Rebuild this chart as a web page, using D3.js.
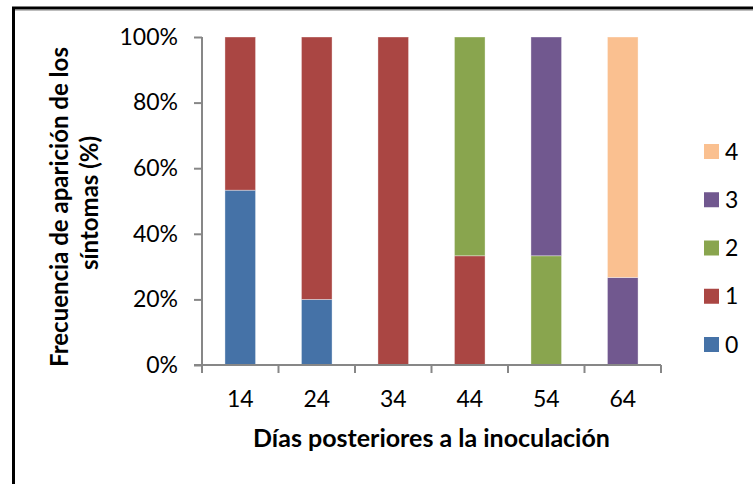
<!DOCTYPE html>
<html>
<head>
<meta charset="utf-8">
<script src="https://cdn.jsdelivr.net/npm/d3@7"></script>
<style>
  html, body { margin: 0; padding: 0; background: #fff; }
  svg { display: block; }
  text { font-family: Lato, "Open Sans", sans-serif; fill: #000; }
</style>
</head>
<body>
<svg id="chart" width="753" height="484"></svg>
<script>
// Days after inoculation (categories) and symptom-level shares (%) per day
const days = ["14", "24", "34", "44", "54", "64"];
const levels = ["0", "1", "2", "3", "4"];
const level0 = [53.3, 20, 0, 0, 0, 0];
const level1 = [46.7, 80, 100, 33.3, 0, 0];
const level2 = [0, 0, 0, 66.7, 33.3, 0];
const level3 = [0, 0, 0, 0, 66.7, 26.7];
const level4 = [0, 0, 0, 0, 0, 73.3];
const levelColors = ["#4572A7", "#AA4643", "#89A54E", "#71588F", "#FAC090"];
const yTicks = [0, 20, 40, 60, 80, 100];

const seriesValues = [level0, level1, level2, level3, level4];
const rows = days.map((d, i) => {
  const r = { day: d };
  levels.forEach((l, k) => { r[l] = seriesValues[k][i]; });
  return r;
});

const svg = d3.select("#chart");
const margin = { left: 202, right: 92, top: 37, bottom: 119 };
const W = 753, H = 484;

// Outer frame
svg.append("line").attr("x1", 15).attr("x2", W).attr("y1", 10.5).attr("y2", 10.5)
  .attr("stroke", "#bdbdbd").attr("stroke-width", 1);
svg.append("rect").attr("x", 13.5).attr("y", 8).attr("width", W + 20).attr("height", H + 20)
  .attr("fill", "none").attr("stroke", "#000").attr("stroke-width", 3);

const x = d3.scaleBand().domain(days).range([margin.left, W - margin.right]).paddingInner(0.6).paddingOuter(0.3);
const y = d3.scaleLinear().domain([0, 100]).range([H - margin.bottom, margin.top]);

const stacked = d3.stack().keys(levels)(rows);

const bars = svg.append("g");
stacked.forEach((s, k) => {
  bars.selectAll(null).data(s).join("rect")
    .attr("x", d => x(d.data.day))
    .attr("width", x.bandwidth())
    .attr("y", d => y(d[1]))
    .attr("height", d => Math.max(0, y(d[0]) - y(d[1])))
    .attr("fill", levelColors[k])
    .attr("stroke", d => (d[1] - d[0]) > 0 ? "rgba(255,255,255,0.45)" : "none")
    .attr("stroke-width", 0.8);
});

const axisColor = "#878787";

// Y axis
const yAxis = svg.append("g").attr("transform", `translate(${margin.left},0)`)
  .call(d3.axisLeft(y).tickValues(yTicks).tickFormat(d => d + "%").tickSize(8).tickPadding(16));
// X axis (ticks on category boundaries)
const xAxis = svg.append("g").attr("transform", `translate(0,${H - margin.bottom})`)
  .call(d3.axisBottom(x).tickSize(0).tickPadding(26));
const step = x.step();
const x0 = margin.left;
xAxis.selectAll("line.boundary").data(d3.range(days.length + 1)).join("line")
  .attr("class", "boundary")
  .attr("x1", i => x0 + i * step).attr("x2", i => x0 + i * step)
  .attr("y1", 0).attr("y2", 8)
  .attr("stroke", axisColor).attr("stroke-width", 2);

[yAxis, xAxis].forEach(g => {
  g.select(".domain").attr("stroke", axisColor).attr("stroke-width", 2);
  g.selectAll(".tick line").attr("stroke", axisColor).attr("stroke-width", 2);
  g.selectAll(".tick text").style("font-family", "Lato, sans-serif").style("font-size", "23px").attr("fill", "#000");
});
yAxis.select(".domain").attr("d", `M0,${margin.top}V${H - margin.bottom}`);
xAxis.select(".domain").attr("d", `M${margin.left - 8},0H${W - margin.right}`);

// Axis titles
svg.append("text")
  .attr("x", (margin.left + W - margin.right) / 2).attr("y", 447)
  .attr("text-anchor", "middle")
  .style("font-weight", "bold").style("font-size", "25px")
  .text("Días posteriores a la inoculación");

const yTitle = svg.append("text")
  .attr("transform", "rotate(-90)")
  .attr("text-anchor", "middle")
  .style("font-weight", "bold").style("font-size", "24px");
yTitle.append("tspan").attr("x", -207).attr("y", 68).text("Frecuencia de aparición de los");
yTitle.append("tspan").attr("x", -203).attr("y", 98).text("síntomas (%)");

// Legend (top to bottom: 4 .. 0)
const legend = svg.append("g");
const legendItems = levels.map((l, k) => ({ label: l, color: levelColors[k] })).reverse();
const ly = d3.scalePoint().domain(legendItems.map(d => d.label)).range([151.5, 344.5]);
legendItems.forEach(d => {
  legend.append("rect").attr("x", 704).attr("y", ly(d.label) - 7.5)
    .attr("width", 15).attr("height", 15).attr("fill", d.color);
  legend.append("text").attr("x", 725).attr("y", ly(d.label) + 8)
    .style("font-size", "23px").text(d.label);
});
</script>
</body>
</html>
